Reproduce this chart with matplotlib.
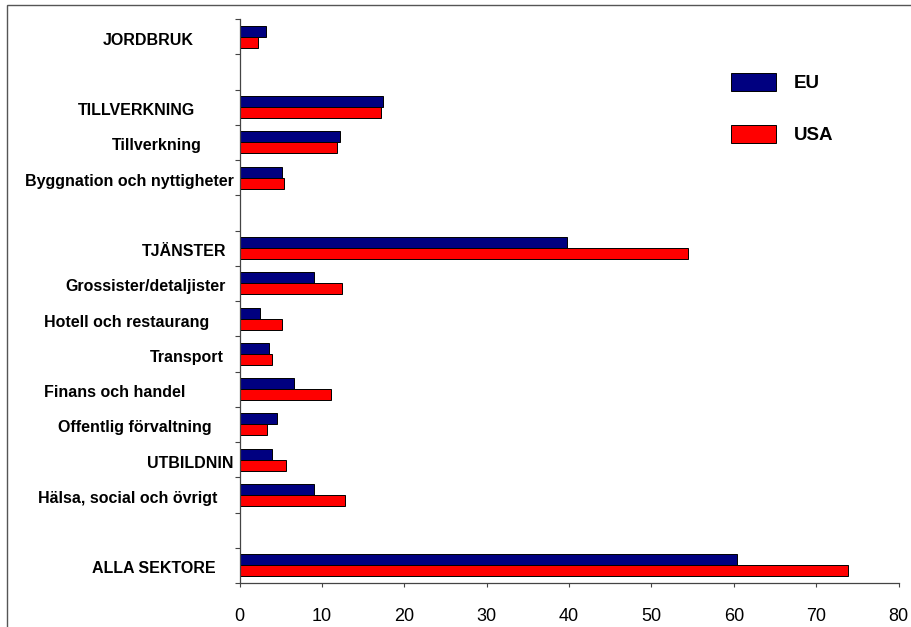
import numpy as np
import pandas as pd
import matplotlib.pyplot as plt
from matplotlib.patches import Rectangle, Patch

plt.rcParams['font.family'] = ['Liberation Sans', 'DejaVu Sans']

# Sector categories (blank strings are the spacer rows of the original chart)
categories = [
    "JORDBRUK", "",
    "TILLVERKNING", "Tillverkning", "Byggnation och nyttigheter", "",
    "TJÄNSTER", "Grossister/detaljister", "Hotell och restaurang", "Transport",
    "Finans och handel", "Offentlig förvaltning", "UTBILDNIN",
    "Hälsa, social och övrigt", "",
    "ALLA SEKTORE",
]
eu = [3.2, None, 17.4, 12.2, 5.1, None, 39.7, 9.0, 2.45, 3.6, 6.65, 4.55, 4.0, 9.0, None, 60.4]
usa = [2.2, None, 17.2, 11.8, 5.4, None, 54.4, 12.4, 5.1, 4.0, 11.1, 3.3, 5.7, 12.8, None, 73.9]

# how far (px) each label's right edge sits left of the axis
label_pad = [46, 0, 44, 38, 6, 0, 13, 14, 30, 16, 54, 28, 6, 22, 0, 24]

df = pd.DataFrame({"Sector": categories, "EU": eu, "USA": usa}, dtype=object)
df["row"] = np.arange(len(df))
df[["EU", "USA"]] = df[["EU", "USA"]].astype(float)
data = df.dropna(subset=["EU"])

W, H = 911, 627
fig = plt.figure(figsize=(W / 100, H / 100), dpi=100)
ax = fig.add_axes([239.5 / W, 1 - 583 / H, (898.5 - 239.5) / W, (583 - 19) / H])

h = 0.315
ax.barh(data["row"] - h / 2, data["EU"], height=h, color="#000080",
        edgecolor="black", linewidth=0.7, label="EU")
ax.barh(data["row"] + h / 2, data["USA"], height=h, color="#FF0000",
        edgecolor="black", linewidth=0.7, label="USA")

ax.set_ylim(len(df) - 0.5, -0.5)
ax.set_xlim(0, 80)
ax.set_xticks(range(0, 81, 10))
ax.tick_params(axis="x", direction="out", length=3, width=0.8, color="#444444",
               pad=15, labelsize=13)

# category ticks sit between rows, labels placed by hand
ax.set_yticks(np.arange(-0.5, len(df), 1))
ax.set_yticklabels([])
ax.tick_params(axis="y", direction="out", length=3.5, width=0.8, color="#444444")
for r, (name, pad) in enumerate(zip(categories, label_pad)):
    if name:
        ax.annotate(name, xy=(0, r), xytext=(-pad * 0.72, -2.5),
                    textcoords="offset points", ha="right", va="center",
                    fontsize=11.5, fontweight="bold")

for s in ["top", "right"]:
    ax.spines[s].set_visible(False)
for s in ["left", "bottom"]:
    ax.spines[s].set_color("#444444")
    ax.spines[s].set_linewidth(0.9)

handles = [Patch(facecolor="#000080", edgecolor="black", linewidth=0.7),
           Patch(facecolor="#FF0000", edgecolor="black", linewidth=0.7)]
fig.legend(handles, ["EU", "USA"], loc="upper left",
           bbox_to_anchor=(714 / W, 1 - 56 / H), frameon=False,
           prop={"weight": "bold", "size": 13.5},
           handlelength=2.4, handleheight=1.1, handletextpad=0.95, labelspacing=1.75)

# outer chart-area border
fig.add_artist(Rectangle((7 / W, -0.05), 1.1, 1 - 5 / H + 0.05,
                         transform=fig.transFigure, fill=False,
                         edgecolor="#555555", linewidth=1.0))

fig.savefig("out.png", dpi=100)
